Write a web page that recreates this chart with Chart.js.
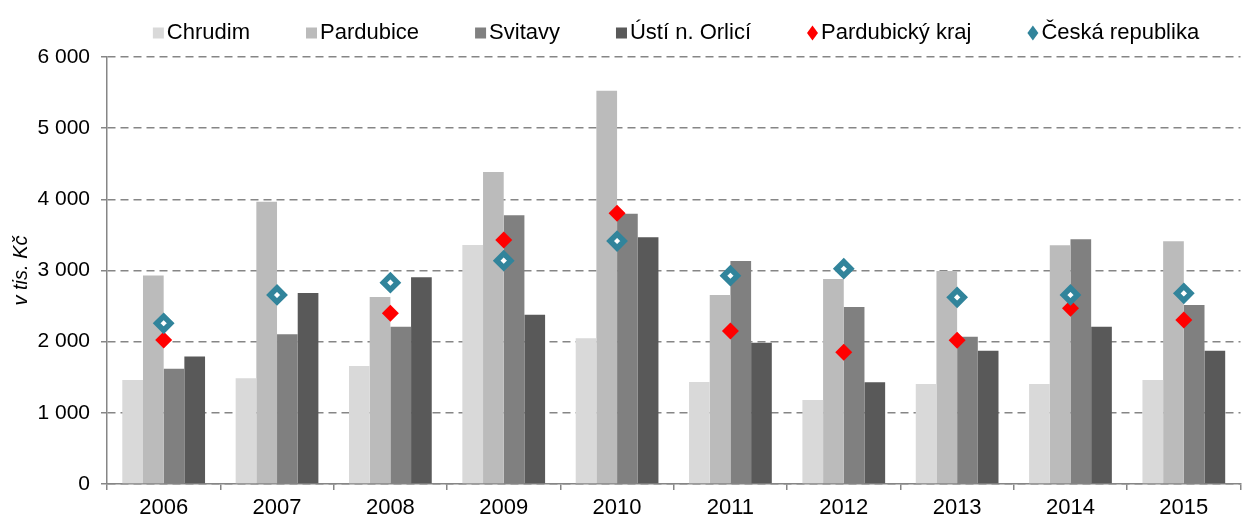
<!DOCTYPE html>
<html>
<head>
<meta charset="utf-8">
<script src="https://cdn.jsdelivr.net/npm/chart.js@4.4.1/dist/chart.umd.min.js"></script>
<style>
  html, body { margin: 0; padding: 0; background: #fff; }
  #wrap { width: 1253px; height: 518px; }
</style>
</head>
<body>
<div id="wrap"><canvas id="graf"></canvas></div>
<script>
var roky = ['2006', '2007', '2008', '2009', '2010', '2011', '2012', '2013', '2014', '2015'];
var chrudim = [1460, 1485, 1658, 3358, 2047, 1433, 1180, 1405, 1405, 1461];
var pardubice = [2930, 3967, 2627, 4384, 5527, 2656, 2880, 2993, 3354, 3410];
var svitavy = [1620, 2103, 2210, 3775, 3798, 3133, 2487, 2070, 3438, 2515];
var ustiOrlici = [1790, 2684, 2904, 2379, 3466, 1986, 1429, 1873, 2210, 1873];
var pardubickyKraj = [2023, 2640, 2398, 3428, 3803, 2150, 1850, 2019, 2468, 2304];
var ceskaRepublika = [2258, 2656, 2829, 3138, 3414, 2927, 3025, 2623, 2656, 2679];

var font = 'Liberation Sans, Arial, sans-serif';
var gridColor = '#868686';

function formatCislo(v) {
    return String(v).replace(/\B(?=(\d{3})+(?!\d))/g, ' ');
}

function sloupce(label, data, color) {
    return { type: 'bar', label: label, data: data, backgroundColor: color, borderWidth: 0, order: 2 };
}

// vlastni legenda - znacka tesne u textu, velke mezery mezi polozkami
var legenda = {
    id: 'legenda',
    afterDraw: function (chart) {
        var c = chart.ctx;
        var sady = chart.data.datasets;
        var znacka = 11, mezera = 3, odstup = 56;
        c.save();
        c.font = '22px ' + font;
        var sirky = sady.map(function (d) { return c.measureText(d.label).width; });
        var celkem = 0;
        sirky.forEach(function (w) { celkem += znacka + mezera + w; });
        celkem += odstup * (sady.length - 1);
        var x = 676 - celkem / 2;
        var y = 33;
        sady.forEach(function (d, i) {
            if (d.type === 'bar') {
                c.fillStyle = d.backgroundColor;
                c.fillRect(x, y - znacka / 2, znacka, znacka);
            } else {
                c.fillStyle = d.legendColor;
                c.beginPath();
                c.moveTo(x + znacka / 2, y - 7.5);
                c.lineTo(x + znacka, y);
                c.lineTo(x + znacka / 2, y + 7.5);
                c.lineTo(x, y);
                c.closePath();
                c.fill();
            }
            c.fillStyle = '#000';
            c.textBaseline = 'middle';
            c.textAlign = 'left';
            c.fillText(d.label, x + znacka + mezera, y);
            x += znacka + mezera + sirky[i] + odstup;
        });
        c.restore();
    }
};

var ctx = document.getElementById('graf');
new Chart(ctx, {
    data: {
        labels: roky,
        datasets: [
            sloupce('Chrudim', chrudim, '#d9d9d9'),
            sloupce('Pardubice', pardubice, '#bbbbbb'),
            sloupce('Svitavy', svitavy, '#808080'),
            sloupce('Ústí n. Orlicí', ustiOrlici, '#595959'),
            {
                type: 'line', label: 'Pardubický kraj', data: pardubickyKraj, showLine: false,
                pointStyle: 'rectRot', pointRadius: 8.5, pointHoverRadius: 8.5, legendColor: '#ff0000',
                backgroundColor: '#ff0000', borderColor: '#ff0000', pointBorderWidth: 0, borderWidth: 0, order: 1
            },
            {
                type: 'line', label: 'Česká republika', data: ceskaRepublika, showLine: false,
                pointStyle: 'rectRot', pointRadius: 7, pointHoverRadius: 7, legendColor: '#31849b',
                backgroundColor: '#ffffff', borderColor: '#31849b', pointBorderWidth: 5.5, borderWidth: 3, order: 0
            }
        ]
    },
    plugins: [legenda],
    options: {
        responsive: true,
        maintainAspectRatio: false,
        animation: false,
        layout: { padding: { top: 57, right: 3, bottom: 0, left: 0 } },
        datasets: { bar: { categoryPercentage: 0.73, barPercentage: 1.0 } },
        plugins: {
            tooltip: { enabled: false },
            legend: { display: false }
        },
        scales: {
            x: {
                offset: true,
                grid: { display: true, drawOnChartArea: false, drawTicks: true, tickLength: 6, offset: true, color: gridColor, lineWidth: 1.5 },
                border: { color: gridColor, width: 1.5 },
                ticks: { color: '#000', padding: 5, maxRotation: 0, font: { family: font, size: 22 } },
                afterFit: function (scale) { scale.height = 34; }
            },
            y: {
                min: 0,
                max: 6000,
                ticks: {
                    stepSize: 1000, color: '#000', padding: 11,
                    font: { family: font, size: 21 },
                    callback: function (v) { return formatCislo(v); }
                },
                grid: { color: gridColor, lineWidth: 1.5, tickLength: 6, tickBorderDash: [] },
                border: { color: gridColor, width: 1.5, dash: [8, 5] },
                title: {
                    display: true, text: 'v tis. Kč', color: '#000',
                    padding: { top: 9, bottom: 0 },
                    font: { family: font, size: 20, style: 'italic' }
                },
                afterFit: function (scale) { scale.width = 107; }
            }
        }
    }
});
</script>
</body>
</html>
